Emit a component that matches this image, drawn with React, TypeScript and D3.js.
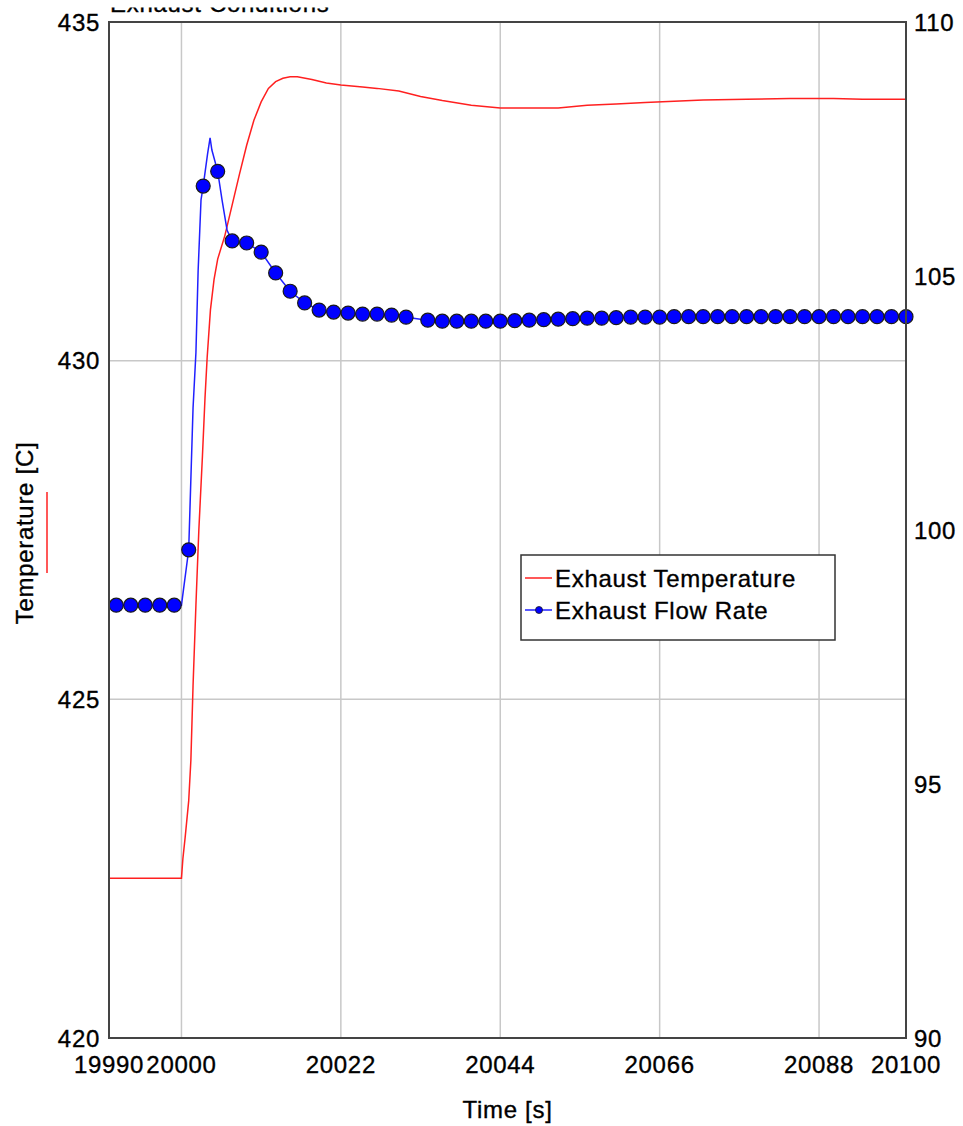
import React from "react";
import * as d3 from "d3";

// ---- data ----
const xTicks = [19990, 20000, 20022, 20044, 20066, 20088, 20100];
const xGridTicks = [20000, 20022, 20044, 20066, 20088];
const leftTicks = [420, 425, 430, 435];
const leftGridTicks = [425, 430];
const rightTicks = [90, 95, 100, 105, 110];

const tempTimes = [
  19990, 20000, 20000.2, 20000.5, 20001, 20001.3, 20001.6, 20002, 20002.4, 20002.9,
  20003.25, 20003.55, 20004, 20004.5, 20005, 20006, 20007, 20008, 20009, 20010,
  20011, 20012, 20013, 20014, 20015, 20016, 20018, 20020, 20022, 20025,
  20027, 20030, 20033, 20036, 20040, 20044, 20048, 20052, 20056, 20060,
  20064, 20068, 20072, 20078, 20084, 20090, 20094, 20100,
];
const tempValues = [
  422.36, 422.36, 422.65, 422.95, 423.5, 424.1, 425.2, 426.4, 427.5, 428.6,
  429.45, 430.05, 430.75, 431.2, 431.5, 431.85, 432.3, 432.75, 433.18, 433.55,
  433.82, 434.02, 434.12, 434.17, 434.19, 434.19, 434.15, 434.1, 434.07, 434.04,
  434.02, 433.98, 433.9, 433.84, 433.77, 433.73, 433.73, 433.73, 433.77, 433.79,
  433.81, 433.83, 433.85, 433.86, 433.87, 433.87, 433.86, 433.86,
];

// flow rate: points carrying a marker
const flowMarkerTimes = [
  19991, 19993, 19995, 19997, 19999, 20001, 20003, 20005, 20007, 20009,
  20011, 20013, 20015, 20017, 20019, 20021, 20023, 20025, 20027, 20029,
  20031, 20034, 20036, 20038, 20040, 20042, 20044, 20046, 20048, 20050,
  20052, 20054, 20056, 20058, 20060, 20062, 20064, 20066, 20068, 20070,
  20072, 20074, 20076, 20078, 20080, 20082, 20084, 20086, 20088, 20090,
  20092, 20094, 20096, 20098, 20100,
];
const flowMarkerValues = [
  98.52, 98.52, 98.52, 98.52, 98.52, 99.61, 106.77, 107.06, 105.69, 105.65,
  105.47, 105.06, 104.7, 104.47, 104.33, 104.29, 104.27, 104.25, 104.25, 104.23,
  104.19, 104.13, 104.11, 104.11, 104.11, 104.11, 104.11, 104.12, 104.13, 104.14,
  104.15, 104.16, 104.17, 104.17, 104.18, 104.19, 104.19, 104.19, 104.2, 104.2,
  104.2, 104.2, 104.2, 104.2, 104.2, 104.2, 104.2, 104.2, 104.2, 104.2,
  104.2, 104.2, 104.2, 104.2, 104.2,
];
// flow rate: intermediate line vertices without marker
const flowLineTimes = [
  19990, 20000, 20001.6, 20002, 20002.3, 20002.7, 20003.6, 20003.95, 20004.2, 20005.6, 20006.3,
];
const flowLineValues = [
  98.52, 98.52, 102.4, 103.5, 105.1, 106.5, 107.4, 107.72, 107.48, 106.5, 105.9,
];

const seriesNames = ["Exhaust Temperature", "Exhaust Flow Rate"];
const chartTitle = "Exhaust Conditions";
const xLabel = "Time [s]";
const yLabel = "Temperature [C]";

export default function App() {
  const W = 963;
  const H = 1126;
  const left = 109, right = 906, top = 22, bottom = 1038;

  const x = d3.scaleLinear().domain([19990, 20100]).range([left, right]);
  const yL = d3.scaleLinear().domain([420, 435]).range([bottom, top]);
  const yR = d3.scaleLinear().domain([90, 110]).range([bottom, top]);

  const tempPts: [number, number][] = tempTimes.map((t, i) => [t, tempValues[i]]);
  const markerPts: [number, number][] = flowMarkerTimes.map((t, i) => [t, flowMarkerValues[i]]);
  const flowPts: [number, number][] = [
    ...markerPts,
    ...flowLineTimes.map((t, i) => [t, flowLineValues[i]] as [number, number]),
  ].sort((a, b) => a[0] - b[0]);

  const tempLine = d3.line<[number, number]>().x((d) => x(d[0])).y((d) => yL(d[1]));
  const flowLine = d3.line<[number, number]>().x((d) => x(d[0])).y((d) => yR(d[1]));

  const font = "'Liberation Sans', Arial, sans-serif";
  const fs = 24;
  const txt = { fontSize: fs, fill: "#000", stroke: "#000", strokeWidth: 0.35, letterSpacing: 0.7 } as any;

  return (
    <svg
      width={W}
      height={H}
      style={{ position: "absolute", left: 0, top: 0, background: "#fff" }}
      fontFamily={font}
    >
      <rect x={0} y={0} width={W} height={H} fill="#fff" />
      <defs>
        <clipPath id="plotclip">
          <rect x={left} y={top} width={right - left} height={bottom - top} />
        </clipPath>
        <clipPath id="titleclip">
          <rect x={0} y={7.5} width={W} height={6} />
        </clipPath>
      </defs>
      {/* title (mostly cut off at the top, as in the source) */}
      <g clipPath="url(#titleclip)">
        <text x={110} y={12} {...txt}>{chartTitle}</text>
      </g>

      {/* grid */}
      {xGridTicks.map((t) => (
        <line key={"gx" + t} x1={x(t)} x2={x(t)} y1={top} y2={bottom} stroke="#c8c8c8" strokeWidth={1.5} />
      ))}
      {leftGridTicks.map((v) => (
        <line key={"gy" + v} x1={left} x2={right} y1={yL(v)} y2={yL(v)} stroke="#c8c8c8" strokeWidth={1.5} />
      ))}

      {/* series */}
      <g clipPath="url(#plotclip)">
        <path d={tempLine(tempPts) || ""} fill="none" stroke="#ff2020" strokeWidth={1.5} />
        <path d={flowLine(flowPts) || ""} fill="none" stroke="#2020ff" strokeWidth={1.5} />
      </g>
      {markerPts.map((d, i) => (
        <circle key={"m" + i} cx={x(d[0])} cy={yR(d[1])} r={7} fill="#0000ff" stroke="#1a1a1a" strokeWidth={1.2} />
      ))}

      {/* frame */}
      <rect x={left} y={top} width={right - left} height={bottom - top} fill="none" stroke="#444" strokeWidth={2} />

      {/* left axis */}
      {leftTicks.map((v) => (
        <text key={"l" + v} x={100} y={yL(v) + 8.5} textAnchor="end" {...txt}>{v}</text>
      ))}
      {/* right axis */}
      {rightTicks.map((v) => (
        <text key={"r" + v} x={914} y={yR(v) + 8.5} textAnchor="start" {...txt}>{v}</text>
      ))}
      {/* x axis */}
      {xTicks.map((t) => (
        <text key={"x" + t} x={x(t)} y={1073} textAnchor="middle" {...txt}>{t}</text>
      ))}

      {/* axis titles */}
      <text x={(left + right) / 2} y={1118} textAnchor="middle" {...txt}>{xLabel}</text>
      <text
        transform={`translate(33, ${(top + bottom) / 2 + 3}) rotate(-90)`}
        textAnchor="middle"
        {...txt}
      >
        {yLabel}
      </text>
      <line x1={47} x2={47} y1={492} y2={573} stroke="#ff2020" strokeWidth={1.5} />

      {/* legend */}
      <rect x={521} y={555} width={314} height={85} fill="#fff" stroke="#333" strokeWidth={1.5} />
      <line x1={525} x2={552} y1={578} y2={578} stroke="#ff2020" strokeWidth={1.5} />
      <text x={555} y={586.5} {...txt}>{seriesNames[0]}</text>
      <line x1={525} x2={552} y1={610} y2={610} stroke="#2020ff" strokeWidth={1.5} />
      <circle cx={539} cy={610} r={3.5} fill="#0000ff" stroke="#1a1a1a" strokeWidth={0.8} />
      <text x={555} y={618.5} {...txt}>{seriesNames[1]}</text>
    </svg>
  );
}
